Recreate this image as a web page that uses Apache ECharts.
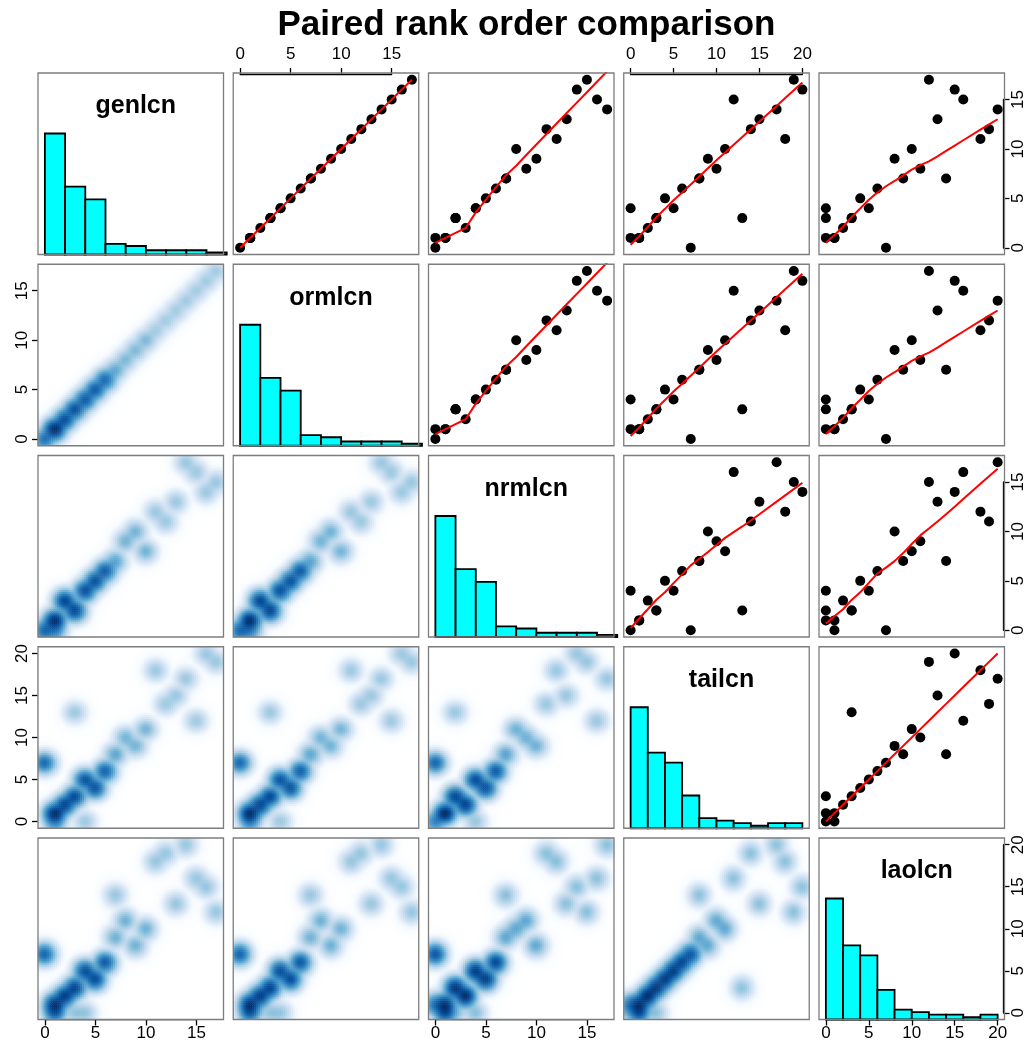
<!DOCTYPE html>
<html>
<head>
<meta charset="utf-8">
<script src="https://cdn.jsdelivr.net/npm/echarts@6/dist/echarts.min.js"></script>
<style>
  html, body { margin: 0; padding: 0; background: #ffffff; }
  #chart { width: 1028px; height: 1045px; }
</style>
</head>
<body>
<div id="chart"></div>
<script>
// Rank variables: one entry per distinct observation profile
const varNames = ['genlcn', 'ormlcn', 'nrmlcn', 'tailcn', 'laolcn'];
const genlcn = [4, 1, 1, 1, 2, 3, 3, 5, 4, 6, 0, 7, 7, 9, 8, 10, 15, 3, 12, 13, 14, 11, 17, 16];
const ormlcn = [4, 1, 1, 1, 2, 3, 3, 5, 4, 6, 0, 7, 7, 9, 8, 10, 15, 3, 12, 13, 14, 11, 17, 16];
const nrmlcn = [4, 0, 1, 1, 3, 2, 2, 5, 4, 6, 0, 7, 7, 10, 9, 8, 16, 2, 11, 13, 17, 12, 15, 14];
const tailcn = [0, 0, 1, 1, 2, 3, 3, 4, 5, 6, 7, 8, 8, 9, 10, 11, 12, 13, 14, 15, 17, 18, 19, 20];
const laolcn = [0, 1, 0, 1, 2, 0, 3, 4, 5, 6, 7, 9, 14, 8, 11, 10, 16, 3, 19, 13, 20, 18, 12, 15];
// How many observations share each profile
const freq = [1, 6, 10, 14, 17, 1, 15, 14, 14, 12, 10, 2, 1, 2, 2, 2, 1, 1, 1, 1, 1, 1, 1, 1];
// Tick labels of the outer axes
const ticksShort = [0, 5, 10, 15];
const ticksLong = [0, 5, 10, 15, 20];

const mainTitle = 'Paired rank order comparison';
const vars = [genlcn, ormlcn, nrmlcn, tailcn, laolcn];
const NV = vars.length;

// ---- layout ----
const PX0 = 38, PY0 = 73, PW = 185.5, PH = 181.5, STEPX = 195.25, STEPY = 191.25;
const colX = j => PX0 + j * STEPX;
const rowY = i => PY0 + i * STEPY;
const FONT = '"Liberation Sans", Arial, Helvetica, sans-serif';

// ---- helpers ----
const expand = v => { const out = []; v.forEach((val, k) => { for (let c = 0; c < freq[k]; c++) out.push(val); }); return out; };
const full = vars.map(expand);
const limits = vars.map(v => { const lo = Math.min(...v), hi = Math.max(...v), r = hi - lo; return [lo - 0.04 * r, hi + 0.04 * r]; });
const tickSets = vars.map(v => Math.max(...v) >= 20 ? ticksLong : ticksShort);

function quantile7(arr, p) {
  const s = arr.slice().sort((a, b) => a - b);
  const h = (s.length - 1) * p, lo = Math.floor(h);
  return lo + 1 < s.length ? s[lo] + (h - lo) * (s[lo + 1] - s[lo]) : s[lo];
}
// kernel width of the density smoother, per variable
const KERNEL_SCALE = 1.2;
const bandwidth = full.map(v => KERNEL_SCALE * (quantile7(v, 0.95) - quantile7(v, 0.05)) / 25);

// histogram with breaks every 2, right-closed, first bin includes 0
function histogram(v) {
  const top = Math.ceil(Math.max(...v) / 2) * 2;
  const bins = [];
  for (let b = 0; b < top; b += 2) bins.push([b, b + 2, 0]);
  v.forEach(val => {
    const k = val <= 0 ? 0 : Math.ceil(val / 2) - 1;
    bins[k][2] += 1;
  });
  return bins;
}

// locally weighted scatterplot smoothing (Cleveland's algorithm)
function lowess(xIn, yIn, f, nsteps) {
  const n = xIn.length;
  const order = xIn.map((_, k) => k).sort((a, b) => (xIn[a] - xIn[b]) || (a - b));
  const x = order.map(k => xIn[k]), y = order.map(k => yIn[k]);
  const delta = 0.01 * (x[n - 1] - x[0]);
  const range = x[n - 1] - x[0];
  const ys = new Array(n).fill(0), rw = new Array(n).fill(1), res = new Array(n).fill(0);
  const ns = Math.max(2, Math.min(n, Math.floor(f * n + 1e-7)));
  function lowest(xs, nleft, nright, userw) {
    const h = Math.max(xs - x[nleft], x[nright] - xs);
    const h9 = 0.999 * h, h1 = 0.001 * h;
    const w = new Array(n).fill(0);
    let a = 0, j = nleft;
    while (j < n) {
      w[j] = 0;
      const r = Math.abs(x[j] - xs);
      if (r <= h9) {
        w[j] = r <= h1 ? 1 : Math.pow(1 - Math.pow(r / h, 3), 3);
        if (userw) w[j] *= rw[j];
        a += w[j];
      } else if (x[j] > xs) break;
      j++;
    }
    const nrt = j - 1;
    if (a <= 0) return null;
    for (j = nleft; j <= nrt; j++) w[j] /= a;
    if (h > 0) {
      a = 0;
      for (j = nleft; j <= nrt; j++) a += w[j] * x[j];
      let b = xs - a, c = 0;
      for (j = nleft; j <= nrt; j++) c += w[j] * (x[j] - a) * (x[j] - a);
      if (Math.sqrt(c) > 0.001 * range) {
        b /= c;
        for (j = nleft; j <= nrt; j++) w[j] *= (b * (x[j] - a) + 1);
      }
    }
    let out = 0;
    for (j = nleft; j <= nrt; j++) out += w[j] * y[j];
    return out;
  }
  for (let iter = 1; iter <= nsteps + 1; iter++) {
    let nleft = 0, nright = ns - 1, last = -1, i = 0;
    for (;;) {
      if (nright < n - 1) {
        const d1 = x[i] - x[nleft], d2 = x[nright + 1] - x[i];
        if (d1 > d2) { nleft++; nright++; continue; }
      }
      const fit = lowest(x[i], nleft, nright, iter > 1);
      ys[i] = fit === null ? y[i] : fit;
      if (last < i - 1) {
        const denom = x[i] - x[last];
        for (let j = last + 1; j < i; j++) {
          const alpha = (x[j] - x[last]) / denom;
          ys[j] = alpha * ys[i] + (1 - alpha) * ys[last];
        }
      }
      last = i;
      const cut = x[last] + delta;
      for (i = last + 1; i < n; i++) {
        if (x[i] > cut) break;
        if (x[i] === x[last]) { ys[i] = ys[last]; last = i; }
      }
      i = Math.max(last + 1, i - 1);
      if (last >= n - 1) break;
    }
    for (let k = 0; k < n; k++) res[k] = y[k] - ys[k];
    let sc = 0;
    for (let k = 0; k < n; k++) sc += Math.abs(res[k]);
    sc /= n;
    if (iter > nsteps) break;
    const sorted = res.map(Math.abs).sort((a, b) => a - b);
    const m1 = Math.floor(n / 2);
    const cmad = n % 2 === 0 ? 3 * (sorted[m1] + sorted[n - m1 - 1]) : 6 * sorted[m1];
    if (cmad < 1e-7 * sc) break;
    const c9 = 0.999 * cmad, c1 = 0.001 * cmad;
    for (let k = 0; k < n; k++) {
      const r = Math.abs(res[k]);
      rw[k] = r <= c1 ? 1 : (r <= c9 ? Math.pow(1 - Math.pow(r / cmad, 2), 2) : 0);
    }
  }
  return x.map((xv, k) => [xv, ys[k]]);
}

// smoothed 2-D density on a regular grid, ^0.25 transformed, scaled to [0, 1]
const NBIN = 96;
function densityGrid(ix, iy) {
  const [x0, x1] = limits[ix], [y0, y1] = limits[iy];
  const bx = bandwidth[ix], by = bandwidth[iy];
  const vals = [];
  let maxV = 0;
  for (let a = 0; a < NBIN; a++) {
    const cx = x0 + (a + 0.5) * (x1 - x0) / NBIN;
    for (let b = 0; b < NBIN; b++) {
      const cy = y0 + (b + 0.5) * (y1 - y0) / NBIN;
      let d = 0;
      for (let k = 0; k < freq.length; k++) {
        const u = (cx - vars[ix][k]) / bx, v = (cy - vars[iy][k]) / by;
        d += freq[k] * Math.exp(-0.5 * (u * u + v * v));
      }
      const t = Math.pow(d, 0.25);
      if (t > maxV) maxV = t;
      vals.push([a, b, t]);
    }
  }
  vals.forEach(c => { c[2] = c[2] / maxV; });
  return vals;
}

const blues = ['#FFFFFF', '#F7FBFF', '#DEEBF7', '#C6DBEF', '#9ECAE1', '#6BAED6', '#4292C6', '#2171B5', '#08519C', '#08306B'];
const binCats = Array.from({ length: NBIN }, (_, k) => k);

const grid = [], xAxis = [], yAxis = [], series = [], heatIdx = [];
const titles = [{
  text: mainTitle, left: 521.5, top: 3, textAlign: 'center',
  textStyle: { fontSize: 35, fontWeight: 'bold', fontFamily: FONT, color: '#000' }
}];

for (let i = 0; i < NV; i++) {
  for (let j = 0; j < NV; j++) {
    const g = grid.length;
    grid.push({ left: colX(j), top: rowY(i), width: PW, height: PH, show: true,
      borderColor: '#7d7d7d', borderWidth: 1.3, backgroundColor: 'transparent', z: 4 });
    xAxis.push({ gridIndex: g, type: 'value', min: limits[j][0], max: limits[j][1], show: false });
    if (i === j) {
      const bins = histogram(full[i]);
      const maxC = Math.max(...bins.map(b => b[2]));
      yAxis.push({ gridIndex: g, type: 'value', min: 0, max: 1.5 * maxC, show: false });
      series.push({
        type: 'custom', xAxisIndex: g, yAxisIndex: g, data: bins, clip: false, z: 2,
        encode: { x: [0, 1], y: 2 },
        renderItem: (params, api) => {
          const p0 = api.coord([api.value(0), 0]);
          const p1 = api.coord([api.value(1), api.value(2)]);
          return { type: 'rect', shape: { x: p0[0], y: p1[1], width: p1[0] - p0[0], height: p0[1] - p1[1] },
            style: { fill: '#00FFFF', stroke: '#000000', lineWidth: 1.8 } };
        }
      });
      titles.push({ text: varNames[i], left: colX(j) + PW / 2, top: rowY(i) + 16, textAlign: 'center',
        textStyle: { fontSize: 25, fontWeight: 'bold', fontFamily: FONT, color: '#000' } });
    } else if (i < j) {
      yAxis.push({ gridIndex: g, type: 'value', min: limits[i][0], max: limits[i][1], show: false });
      const pts = vars[j].map((xv, k) => [xv, vars[i][k]]);
      series.push({ type: 'scatter', xAxisIndex: g, yAxisIndex: g, data: pts, symbol: 'circle', symbolSize: 10,
        itemStyle: { color: '#000000', opacity: 1 }, z: 2, silent: true });
      series.push({ type: 'line', xAxisIndex: g, yAxisIndex: g, data: lowess(full[j], full[i], 2 / 3, 3),
        showSymbol: false, symbol: 'none', lineStyle: { color: '#FF0000', width: 2 }, z: 3, silent: true });
    } else {
      yAxis.push({ gridIndex: g, type: 'value', min: limits[i][0], max: limits[i][1], show: false });
      // separate grid for the density image, same footprint as the panel
      const h = grid.length;
      grid.push({ left: colX(j), top: rowY(i), width: PW, height: PH, show: false });
      xAxis.push({ gridIndex: h, type: 'category', data: binCats, show: false, boundaryGap: true });
      yAxis.push({ gridIndex: h, type: 'category', data: binCats, show: false, boundaryGap: true });
      heatIdx.push(series.length);
      series.push({ type: 'heatmap', xAxisIndex: h, yAxisIndex: h, data: densityGrid(j, i),
        progressive: 0, silent: true, z: 1, itemStyle: { borderWidth: 0 } });
    }
  }
}

// outer axes: each line runs from the first to the last tick, R style
const axisCommon = {
  type: 'value', interval: 5, splitLine: { show: false },
  axisLine: { show: true, lineStyle: { color: '#000', width: 1.3 } },
  axisTick: { show: true, length: 6, lineStyle: { color: '#000', width: 1.3 } }
};
function addXAxis(j, side) {
  const [lo, hi] = limits[j], t = tickSets[j];
  const tmin = t[0], tmax = t[t.length - 1];
  const left = colX(j) + (tmin - lo) / (hi - lo) * PW;
  const width = (tmax - tmin) / (hi - lo) * PW;
  const g = grid.length;
  grid.push({ left, width, top: side === 'top' ? rowY(0) : rowY(NV - 1) + PH - 1, height: 1, show: false });
  xAxis.push(Object.assign({}, axisCommon, { gridIndex: g, position: side, min: tmin, max: tmax,
    axisLabel: { fontSize: 17, color: '#000', fontFamily: FONT, margin: side === 'top' ? 10 : 5 } }));
  yAxis.push({ gridIndex: g, type: 'value', show: false });
}
function addYAxis(i, side) {
  const [lo, hi] = limits[i], t = tickSets[i];
  const tmin = t[0], tmax = t[t.length - 1];
  const top = rowY(i) + (hi - tmax) / (hi - lo) * PH;
  const height = (tmax - tmin) / (hi - lo) * PH;
  const g = grid.length;
  grid.push({ top, height, left: side === 'left' ? colX(0) : colX(NV - 1) + PW - 1, width: 1, show: false });
  xAxis.push({ gridIndex: g, type: 'value', show: false });
  yAxis.push(Object.assign({}, axisCommon, { gridIndex: g, position: side, min: tmin, max: tmax,
    axisLabel: { fontSize: 17, color: '#000', fontFamily: FONT, rotate: 90, margin: side === 'left' ? 7 : 5 } }));
}
[1, 3].forEach(j => addXAxis(j, 'top'));
[0, 2, 4].forEach(j => addXAxis(j, 'bottom'));
[1, 3].forEach(i => addYAxis(i, 'left'));
[0, 2, 4].forEach(i => addYAxis(i, 'right'));

const chart = echarts.init(document.getElementById('chart'), null, { renderer: 'canvas' });
chart.setOption({
  animation: false,
  backgroundColor: '#ffffff',
  title: titles,
  grid, xAxis, yAxis, series,
  visualMap: { show: false, type: 'continuous', min: 0, max: 1, dimension: 2, seriesIndex: heatIdx,
    inRange: { color: blues } }
});
</script>
</body>
</html>
